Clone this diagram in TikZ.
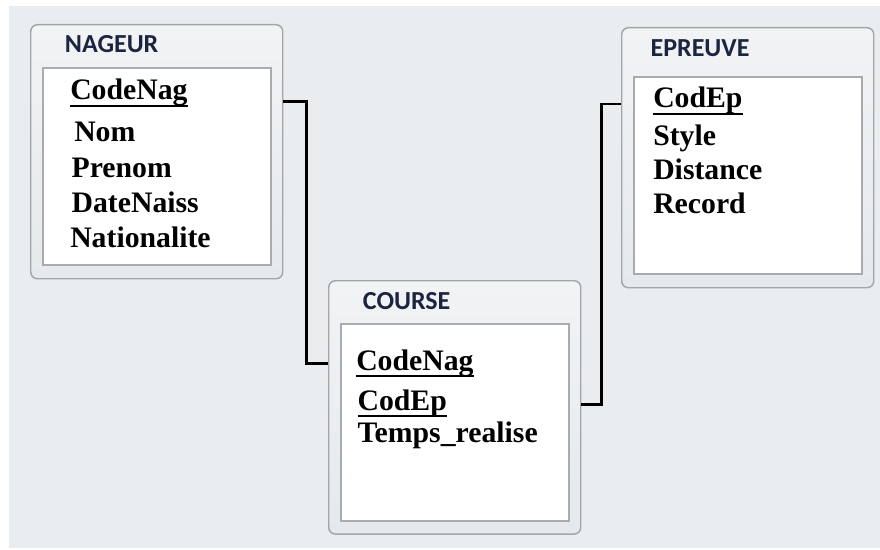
\documentclass[tikz,border=0pt]{standalone}
\usepackage{fontspec}
\setmainfont{Liberation Serif}
\newfontfamily\titlefont{Carlito}
\usetikzlibrary{positioning}

\definecolor{fond}{HTML}{EAEDF0}
\definecolor{cadre}{HTML}{A2A6AA}
\definecolor{cadrehaut}{HTML}{F1F3F5}
\definecolor{cadrebas}{HTML}{E6E9EC}
\definecolor{corps}{HTML}{A8ACB0}
\definecolor{encre}{HTML}{1B2540}

% Clé soulignée (trait épais sous le mot)
\newcommand\souligne[1]{\setbox0\hbox{#1}\rlap{\rule[-5pt]{\wd0}{1.4pt}}\box0}

\begin{document}
\begin{tikzpicture}[
        x=0.75pt, y=0.75pt,
        % Cadre extérieur d'une table
        tableframe/.style={
                rectangle,
                rounded corners=5pt,
                draw=cadre,
                line width=1.1pt,
                top color=cadrehaut,
                bottom color=cadrebas,
                minimum width=189pt,
                inner sep=0pt,
                anchor=north west
            },
        % Zone blanche des champs
        tablebody/.style={
                rectangle,
                draw=corps,
                line width=1.5pt,
                fill=white,
                minimum width=171pt,
                minimum height=147.75pt,
                inner sep=0pt
            },
        % Nom de la table
        tabletitle/.style={
                font=\titlefont\bfseries\fontsize{19.5}{22}\selectfont,
                text=encre,
                inner sep=0pt,
                anchor=west
            },
        % Champs
        field/.style={
                font=\bfseries\fontsize{22.3}{25}\selectfont,
                inner sep=0pt
            },
        % Liens entre tables
        link/.style={
                draw=black,
                line width=2.2pt
            }
    ]

    % Fond
    \useasboundingbox (0,0) rectangle (880,-549);
    \fill[white] (0,0) rectangle (880,-549);
    \fill[fond] (9,-6) rectangle (880,-548);

    % Table NAGEUR
    \node[tableframe, minimum height=190.5pt] (nageur) at (30,-24) {};
    \node[tablebody, above right=9.75pt and 9pt of nageur.south west] (nageur-in) {};
    \node[tabletitle] (nageur-t) at ([xshift=26pt, yshift=-15pt]nageur.north west) {NAGEUR};
    \node[field, anchor=base west] (n-code) at (70,-100) {\souligne{CodeNag}};
    \node[field, below=31.5pt of n-code.base west, anchor=base west, xshift=3pt] (n-nom) {Nom};
    \node[field, below=26.25pt of n-nom.base west, anchor=base west, xshift=-2pt] (n-prenom) {Prenom};
    \node[field, below=26.25pt of n-prenom.base west, anchor=base west] (n-date) {DateNaiss};
    \node[field, below=26.25pt of n-date.base west, anchor=base west, xshift=-1pt] (n-nat) {Nationalite};

    % Table EPREUVE
    \node[tableframe, minimum height=195pt] (epreuve) at (621,-27) {};
    \node[tablebody, above right=9.75pt and 9pt of epreuve.south west] (epreuve-in) {};
    \node[tabletitle] (epreuve-t) at ([xshift=22pt, yshift=-16pt]epreuve.north west) {EPREUVE};
    \node[field, anchor=base west] (e-code) at (653,-108) {\souligne{CodEp}};
    \node[field, below=28pt of e-code.base west, anchor=base west] (e-style) {Style};
    \node[field, below=25.5pt of e-style.base west, anchor=base west] (e-dist) {Distance};
    \node[field, below=25.5pt of e-dist.base west, anchor=base west] (e-record) {Record};

    % Table COURSE
    \node[tableframe, minimum height=190pt] (course) at (328,-280) {};
    \node[tablebody, above right=9.75pt and 9pt of course.south west] (course-in) {};
    \node[tabletitle] (course-t) at ([xshift=26pt, yshift=-16pt]course.north west) {COURSE};
    \node[field, anchor=base west] (c-code) at (356,-370) {\souligne{CodeNag}};
    \node[field, below=30pt of c-code.base west, anchor=base west, xshift=1pt] (c-ep) {\souligne{CodEp}};
    \node[field, below=24pt of c-ep.base west, anchor=base west] (c-temps) {Temps\_realise};

    % Liens
    \draw[link] ([yshift=-1pt]n-code.base -| nageur.east) -- ++(23,0) |- ([yshift=5pt]c-code.base -| course.west);
    \draw[link] ([yshift=4pt]c-ep.base -| course.east) -- ++(20,0) |- ([yshift=3pt]e-code.base -| epreuve.west);

\end{tikzpicture}
\end{document}
